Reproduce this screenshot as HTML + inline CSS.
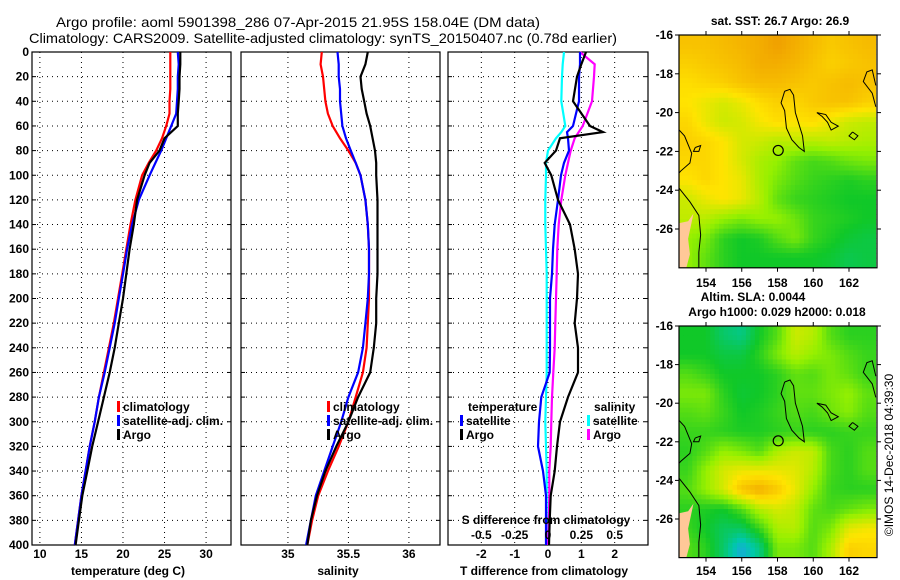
<!DOCTYPE html>
<html><head><meta charset="utf-8"><style>
body{margin:0;background:#fff;}
svg{display:block;font-family:"Liberation Sans",sans-serif;}
.tk{font-size:12px;font-weight:bold;fill:#000;}
.tt{font-size:14px;fill:#000;}
.lg{font-size:12px;font-weight:bold;fill:#000;}
</style></head><body>
<svg id="fig" width="900" height="580" viewBox="0 0 900 580" xmlns="http://www.w3.org/2000/svg">
<rect width="900" height="580" fill="#fff"/>
<text class="tt" x="298" y="27" text-anchor="middle" textLength="484" lengthAdjust="spacingAndGlyphs">Argo profile: aoml 5901398_286 07-Apr-2015 21.95S 158.04E (DM data)</text>
<text class="tt" x="323" y="43" text-anchor="middle" textLength="588" lengthAdjust="spacingAndGlyphs">Climatology: CARS2009. Satellite-adjusted climatology: synTS_20150407.nc (0.78d earlier)</text>
<g id="plots"></g>
</svg>
<script>
// ---- profile data ----
const depths = [0,10,20,30,40,50,60,70,80,90,100,120,140,160,180,200,220,240,260,280,300,320,340,360,380,400];
const tClim = [25.7,25.7,25.7,25.7,25.6,25.6,25.2,24.7,24.0,23.1,22.3,21.5,20.9,20.4,19.9,19.4,18.9,18.3,17.7,17.1,16.6,16.0,15.5,15.0,14.6,14.2];
const tSat  = [26.6,26.7,26.6,26.6,26.5,26.4,25.8,25.2,24.6,23.9,23.2,21.9,21.1,20.5,20.0,19.5,19.0,18.4,17.8,17.1,16.6,16.0,15.5,15.0,14.6,14.2];
const tArgo = [26.9,26.9,26.8,26.8,26.7,26.6,26.6,25.0,24.4,23.2,22.6,21.7,21.3,20.8,20.4,20.0,19.5,19.0,18.4,17.7,17.0,16.3,15.7,15.1,14.7,14.3];
const sClim = [35.28,35.27,35.29,35.30,35.31,35.33,35.37,35.43,35.50,35.56,35.60,35.64,35.66,35.67,35.67,35.67,35.66,35.65,35.62,35.56,35.50,35.42,35.33,35.25,35.20,35.16];
const sSat  = [35.41,35.42,35.42,35.43,35.43,35.44,35.45,35.48,35.52,35.56,35.60,35.64,35.66,35.67,35.67,35.66,35.64,35.62,35.58,35.50,35.44,35.37,35.30,35.23,35.19,35.15];
const sArgo = [35.66,35.64,35.60,35.61,35.63,35.65,35.68,35.70,35.72,35.73,35.73,35.74,35.74,35.74,35.74,35.73,35.73,35.71,35.68,35.58,35.50,35.40,35.31,35.24,35.19,35.16];
// ---- difference data ----
const dDepths = [0,10,20,40,60,65,70,80,90,100,120,140,160,180,200,220,240,260,280,300,320,340,360,380,400];
const dTArgo = [1.14,1.0,0.87,0.75,1.26,1.65,0.36,0.24,-0.1,0.1,0.3,0.66,0.8,0.9,0.87,0.8,0.9,0.9,0.6,0.36,0.27,0.2,0.08,0.05,0.03];
const dTSat  = [0.96,0.96,0.93,0.93,0.75,0.57,0.6,0.63,0.48,0.39,0.3,0.2,0.15,0.12,0.06,0.06,0.06,0.05,-0.2,-0.27,-0.3,-0.15,-0.06,-0.06,-0.06];
const dSSat  = [0.12,0.11,0.105,0.1,0.13,0.1,0.06,0,-0.015,-0.015,-0.02,-0.02,-0.015,-0.01,-0.01,-0.01,-0.01,-0.01,-0.015,-0.02,-0.015,-0.01,-0.01,-0.01,-0.01];
const dSArgo = [0.24,0.35,0.345,0.33,0.26,0.23,0.2,0.17,0.15,0.13,0.1,0.08,0.07,0.065,0.06,0.055,0.05,0.04,0.03,0.025,0.02,0.01,0.01,0.005,0];
const depthTicks = [0,20,40,60,80,100,120,140,160,180,200,220,240,260,280,300,320,340,360,380,400];
const tTicks = [10,15,20,25,30];
const sTicks = [35,35.5,36];
const dTTicks = [-2,-1,0,1,2];
const dSTicks = ['-0.5','-0.25','0','0.25','0.5'];
// ---- map data (1-degree cells, rows lat -16..-28, cols lon 152.5..163.5) ----
const sstGrid = [
[3.5,3.5,3.6,3.7,3.8,4.0,3.8,3.6,3.4,3.5,3.6],
[3.3,3.4,3.5,3.6,3.8,3.8,3.7,3.5,3.3,3.4,3.5],
[3.1,3.2,3.3,3.5,3.6,3.6,3.5,3.4,3.5,3.6,3.5],
[3.0,2.8,2.6,2.8,3.1,3.3,3.2,3.4,3.5,3.5,3.3],
[3.2,2.8,2.5,2.6,2.9,3.1,3.0,3.1,2.8,2.5,2.4],
[3.3,3.2,3.0,2.6,2.5,2.3,2.4,2.3,2.4,2.3,2.2],
[3.2,3.2,3.0,2.6,2.2,2.0,1.6,1.4,1.5,1.7,1.8],
[3.0,3.2,3.0,2.8,2.2,1.8,1.5,1.3,1.2,1.1,1.2],
[2.5,2.8,3.0,2.8,2.3,1.6,1.3,1.2,1.1,1.0,1.0],
[2.4,2.3,2.0,1.8,2.0,2.0,1.7,1.3,1.2,1.1,1.0],
[2.0,1.8,1.2,1.0,1.1,1.5,1.8,1.3,1.1,0.9,0.8],
[2.0,1.6,1.2,1.0,1.0,1.0,1.0,1.0,0.9,0.7,0.8]];
const slaGrid = [
[1.0,1.0,0.5,0.3,1.0,1.5,2.5,2.3,1.5,1.2,1.2],
[1.0,1.0,0.8,0.8,1.2,1.8,2.3,2.0,1.8,1.5,1.3],
[1.5,1.3,1.0,1.0,1.0,1.2,1.6,1.5,1.8,1.6,1.3],
[1.8,1.8,1.2,0.9,1.0,1.2,1.6,1.6,1.8,2.0,1.6],
[1.5,1.6,1.3,1.0,1.1,1.3,1.5,1.4,1.7,1.9,1.5],
[1.3,1.3,1.2,1.1,1.1,1.2,1.3,1.2,1.2,1.3,1.3],
[1.2,1.5,2.0,1.8,1.5,2.2,2.5,2.4,1.4,1.2,1.5],
[1.3,2.0,2.6,2.8,2.8,2.8,2.7,2.3,1.4,1.2,1.5],
[1.5,2.0,2.6,3.5,3.8,3.4,2.8,2.0,1.3,1.2,1.2],
[1.2,1.1,1.0,1.5,2.3,2.6,2.4,1.6,1.4,1.6,1.8],
[1.3,1.0,0.6,0.6,1.3,2.2,2.3,1.5,1.8,2.7,2.9],
[1.5,1.2,0.5,-0.5,0.3,1.8,1.8,1.5,2.2,3.3,3.2]];
const lonTicks = [154,156,158,160,162];
const latTicks = [-16,-18,-20,-22,-24,-26];

const NS='http://www.w3.org/2000/svg';
const root=document.getElementById('plots');
function mk(tag,attrs,parent){const e=document.createElementNS(NS,tag);for(const k in attrs)e.setAttribute(k,attrs[k]);(parent||root).appendChild(e);return e;}

const Y0=52,Y1=545;
const yD=d=>Y0+(d/400)*(Y1-Y0);

function panel(name,x0,x1,xmin,xmax){
  const g=mk('g',{});
  
  
  const sx=v=>x0+(v-xmin)/(xmax-xmin)*(x1-x0);
  return {g,sx,x0,x1};
}
function grid(p,xt){
  depthTicks.forEach(d=>{
    if(d>0&&d<400){const l=mk('line',{x1:p.x0,x2:p.x1,y1:yD(d),y2:yD(d),stroke:'#000','stroke-width':1,'stroke-dasharray':'1,4'},p.g);
    
    }
    mk('line',{x1:p.x0,x2:p.x0+4,y1:yD(d),y2:yD(d),stroke:'#000'},p.g);
    mk('line',{x1:p.x1,x2:p.x1-4,y1:yD(d),y2:yD(d),stroke:'#000'},p.g);
  });
  xt.forEach(v=>{const x=p.sx(v);
    const l=mk('line',{x1:x,x2:x,y1:Y0,y2:Y1,stroke:'#000','stroke-width':1,'stroke-dasharray':'1,4'},p.g);
    
    
  });
  const r=mk('rect',{x:p.x0,y:Y0,width:p.x1-p.x0,height:Y1-Y0,fill:'none',stroke:'#000','stroke-width':1.2},p.g);
  
  
}
function line(p,xs,ds,col,name,sx){
  const pts=xs.map((v,i)=>(sx||p.sx)(v).toFixed(1)+','+yD(ds[i]).toFixed(1)).join(' ');
  const l=mk('polyline',{points:pts,fill:'none',stroke:col,'stroke-width':2.2},p.g);
  
  
}
function text(g,x,y,s,cls,anchor,name){
  const t=mk('text',{x:x,y:y,class:cls,'text-anchor':anchor||'middle'},g);t.textContent=s;
  
  
  return t;
}
function legendEntry(g,x,y,col,label,name){
  mk('rect',{x:x,y:y-10,width:3,height:11,fill:col},g);
  text(g,x+6,y,label,'lg','start',name);
}

// Panel 1 temperature
const p1=panel('temperature-panel',32,231,9.05,33.0);
grid(p1,tTicks);
line(p1,tClim,depths,'#f00','climatology-temperature-line');
line(p1,tSat,depths,'#00f','satellite-temperature-line');
line(p1,tArgo,depths,'#000','argo-temperature-line');
depthTicks.forEach(d=>text(p1.g,29,yD(d)+4,String(d),'tk','end','depth-tick-label'));
tTicks.forEach(v=>text(p1.g,p1.sx(v),558,String(v),'tk','middle','temperature-tick-label'));
text(p1.g,128,575,'temperature (deg C)','tk','middle','temperature-axis-title');
legendEntry(p1.g,117,411,'#f00','climatology','legend-climatology');
legendEntry(p1.g,117,425,'#00f','satellite-adj. clim.','legend-satellite');
legendEntry(p1.g,117,439,'#000','Argo','legend-argo');

// Panel 2 salinity
const p2=panel('salinity-panel',241,440,34.612,36.257);
grid(p2,sTicks);
line(p2,sClim,depths,'#f00','climatology-salinity-line');
line(p2,sSat,depths,'#00f','satellite-salinity-line');
line(p2,sArgo,depths,'#000','argo-salinity-line');
sTicks.forEach(v=>text(p2.g,p2.sx(v),558,String(v),'tk','middle','salinity-tick-label'));
text(p2.g,338,575,'salinity','tk','middle','salinity-axis-title');
legendEntry(p2.g,327,411,'#f00','climatology','legend-climatology');
legendEntry(p2.g,327,425,'#00f','satellite-adj. clim.','legend-satellite');
legendEntry(p2.g,327,439,'#000','Argo','legend-argo');

// Panel 3 differences
const p3=panel('difference-panel',448,648,-3,3);
const sxS=v=>p3.sx(v*4);
grid(p3,dTTicks);
line(p3,dSSat,dDepths,'#0ff','satellite-salinity-diff-line',sxS);
line(p3,dSArgo,dDepths,'#f0f','argo-salinity-diff-line',sxS);
line(p3,dTSat,dDepths,'#00f','satellite-temperature-diff-line');
line(p3,dTArgo,dDepths,'#000','argo-temperature-diff-line');
dTTicks.forEach(v=>text(p3.g,p3.sx(v),558,String(v),'tk','middle','t-diff-tick-label'));
dSTicks.forEach(s=>text(p3.g,sxS(parseFloat(s)),539,s,'tk','middle','s-diff-tick-label'));
text(p3.g,546,524,'S difference from climatology','tk','middle','s-diff-axis-title');
text(p3.g,544,575,'T difference from climatology','tk','middle','t-diff-axis-title');
text(p3.g,468,411,'temperature','lg','start','legend-temperature-header');
legendEntry(p3.g,460,425,'#00f','satellite','legend-t-satellite');
legendEntry(p3.g,460,439,'#000','Argo','legend-t-argo');
text(p3.g,594,411,'salinity','lg','start','legend-salinity-header');
legendEntry(p3.g,587,425,'#0ff','satellite','legend-s-satellite');
legendEntry(p3.g,587,439,'#f0f','Argo','legend-s-argo');

// ---- maps ----
const stops=[[-1,[40,150,255]],[0,[0,200,170]],[1,[16,200,40]],[2,[150,240,0]],[3,[255,228,0]],[4,[240,160,0]]];
function cmap(v){
  for(let i=0;i<stops.length-1;i++){const a=stops[i],b=stops[i+1];
    if(v<=b[0]||i==stops.length-2){const t=Math.max(0,Math.min(1,(v-a[0])/(b[0]-a[0])));
      return 'rgb('+a[1].map((c,k)=>Math.round(c+(b[1][k]-c)*t)).join(',')+')';}}
}
// display sampling: bilinear between cell-centre values (visual only)
function sample(G,fr,fc){
  const R=G.length,C=G[0].length;
  const r=Math.max(0,Math.min(R-1,fr-0.5)),c=Math.max(0,Math.min(C-1,fc-0.5));
  const r0=Math.floor(r),c0=Math.floor(c),r1=Math.min(R-1,r0+1),c1=Math.min(C-1,c0+1);
  const tr=r-r0,tc=c-c0;
  return G[r0][c0]*(1-tr)*(1-tc)+G[r0][c1]*(1-tr)*tc+G[r1][c0]*tr*(1-tc)+G[r1][c1]*tr*tc;
}
const coasts=[
 [[158.4,-18.9],[158.7,-18.8],[158.9,-19.1],[159.0,-20.0],[159.4,-21.2],[159.5,-22.0],[159.2,-21.8],[158.8,-21.4],[158.5,-20.8],[158.4,-19.9],[158.2,-19.5],[158.4,-18.9]],
 [[163.5,-18.6],[163.3,-17.8],[163.0,-17.9],[162.8,-18.4],[163.3,-19.0],[163.5,-19.7]],
 [[160.2,-20.0],[160.7,-20.1],[161.0,-20.5],[161.4,-20.7],[161.0,-20.9],[160.8,-20.5],[160.5,-20.2],[160.2,-20.0]],
 [[152.5,-20.9],[152.8,-21.2],[153.2,-22.1],[153.1,-22.6],[152.6,-23.0],[152.5,-23.1]],
 [[152.5,-23.9],[153.1,-24.6],[153.6,-25.3],[153.7,-26.3],[153.6,-27.2],[153.6,-28.0]],
 [[153.4,-21.8],[153.7,-21.7],[153.6,-22.0],[153.3,-22.0],[153.4,-21.8]],
 [[162.2,-21.0],[162.5,-21.2],[162.3,-21.4],[162.0,-21.2],[162.2,-21.0]]
];
const land=[[152.5,-25.7],[153.0,-25.6],[153.3,-25.2],[153.0,-26.5],[153.1,-27.3],[152.9,-28],[152.5,-28]];
function map(name,gridv,x0,x1,yTop,y16,y26,labelY){
  const g=mk('g',{});
  
  
  const sx=lon=>706+(lon-154)*(849-706)/8;
  const sy=lat=>y16+(-16-lat)*(y26-y16)/10;
  const yBot=sy(-28);
  const sub=4, R=gridv.length, C=gridv[0].length;
  for(let i=0;i<R*sub;i++)for(let j=0;j<C*sub;j++){
    const v=sample(gridv,(i+0.5)/sub,(j+0.5)/sub);
    const xa=sx(152.5+j/sub),xb=sx(152.5+(j+1)/sub),ya=sy(-16-i/sub),yb=sy(-16-(i+1)/sub);
    const cell=mk('rect',{x:xa-0.3,y:ya-0.3,width:xb-xa+0.6,height:yb-ya+0.6,fill:cmap(v)},g);
    
    
  }
  const lp=mk('polygon',{points:land.map(p=>sx(p[0])+','+sy(p[1])).join(' '),fill:'#ffc898'},g);
  
  
  coasts.forEach(c=>{const l=mk('polyline',{points:c.map(p=>sx(p[0])+','+sy(p[1])).join(' '),fill:'none',stroke:'#000','stroke-width':1},g);
    
    });
  const ci=mk('circle',{cx:sx(158.04),cy:sy(-21.95),r:5,fill:'none',stroke:'#000','stroke-width':1.2},g);
  
  
  const fr=mk('rect',{x:x0,y:yTop,width:x1-x0,height:yBot-yTop,fill:'none',stroke:'#000','stroke-width':1.2},g);
  
  
  lonTicks.forEach(l=>{const x=sx(l);
    mk('line',{x1:x,x2:x,y1:yTop,y2:yTop-4,stroke:'#000'},g);
    mk('line',{x1:x,x2:x,y1:yBot,y2:yBot+4,stroke:'#000'},g);
    text(g,x,labelY,String(l),'tk','middle','longitude-tick-label');});
  latTicks.forEach(l=>{const y=sy(l);
    mk('line',{x1:x0,x2:x0-4,y1:y,y2:y,stroke:'#000'},g);
    mk('line',{x1:x1,x2:x1+4,y1:y,y2:y,stroke:'#000'},g);
    text(g,673,y+4,String(l),'tk','end','latitude-tick-label');});
}
map('sst-map',sstGrid,679,877,35,35,229,287);
map('sla-map',slaGrid,679,877,326,326,519,575);
const mg=mk('g',{});


text(mg,780,25,'sat. SST: 26.7 Argo: 26.9','tk','middle','sst-map-title');
text(mg,753,301,'Altim. SLA: 0.0044','tk','middle','sla-map-title');
text(mg,777,316,'Argo h1000: 0.029 h2000: 0.018','tk','middle','sla-map-subtitle');
const cr=text(mg,0,0,'©IMOS 14-Dec-2018 04:39:30','tk','middle','copyright-label');
cr.setAttribute('style','font-weight:normal');
cr.setAttribute('transform','translate(893,455) rotate(-90)');
</script>
</body></html>
